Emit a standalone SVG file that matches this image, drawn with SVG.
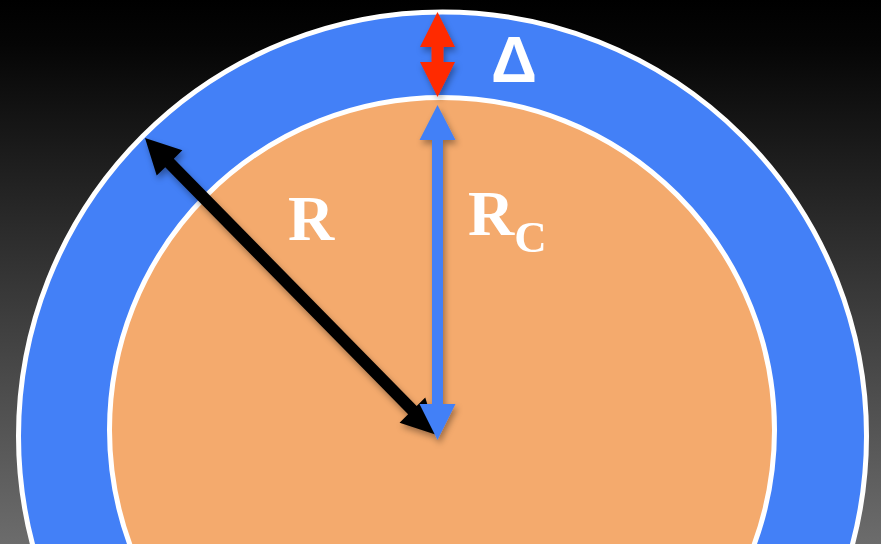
<svg xmlns="http://www.w3.org/2000/svg" width="881" height="544" viewBox="0 0 881 544">
  <defs>
    <linearGradient id="bg" x1="0" y1="0" x2="0" y2="1">
      <stop offset="0" stop-color="#000000"/>
      <stop offset="0.08" stop-color="#050505"/>
      <stop offset="1" stop-color="#6c6c6c"/>
    </linearGradient>
    <filter id="sh" x="-20%" y="-20%" width="140%" height="140%">
      <feDropShadow dx="2" dy="4" stdDeviation="3" flood-color="#000" flood-opacity="0.35"/>
    </filter>
  </defs>
  <style>
    .ring { stroke: #ffffff; stroke-width: 5; }
    .lbl { fill: #ffffff; font-family: "Liberation Serif", "Times New Roman", serif; font-weight: bold; }
    .delta { fill: #ffffff; font-family: "Liberation Sans", Arial, sans-serif; font-weight: bold; }
  </style>
  <rect width="881" height="544" fill="url(#bg)"/>
  <g id="outer">
    <circle class="ring" cx="442.5" cy="436" r="424" fill="#4380f7"/>
  </g>
  <g id="inner">
    <circle class="ring" cx="442" cy="430" r="332.5" fill="#f4aa6d"/>
  </g>
  <g id="connectors" filter="url(#sh)">
    <polygon fill="#000000" transform="translate(145,138) rotate(45.5)" points="0,0 35,-18 35,-6 381.5,-6 381.5,-18 416.5,0 381.5,18 381.5,6 35,6 35,18"/>
    <polygon fill="#4380f7" points="437.5,105 455.5,140 443,140 443,404 455.5,404 437.5,440 419.5,404 432,404 432,140 419.5,140"/>
    <polygon fill="#ff2a00" points="437.5,12 455,47 443.5,47 443.5,62 455,62 437.5,97 420,62 431.5,62 431.5,47 420,47"/>
  </g>
  <g id="label-R">
    <text class="lbl" x="288" y="240" font-size="64">R</text>
  </g>
  <g id="label-Rc">
    <text class="lbl" x="468" y="235" font-size="64">R<tspan font-size="45" dy="17">C</tspan></text>
  </g>
  <g id="label-delta">
    <text class="delta" x="491" y="82" font-size="64">Δ</text>
  </g>
</svg>
